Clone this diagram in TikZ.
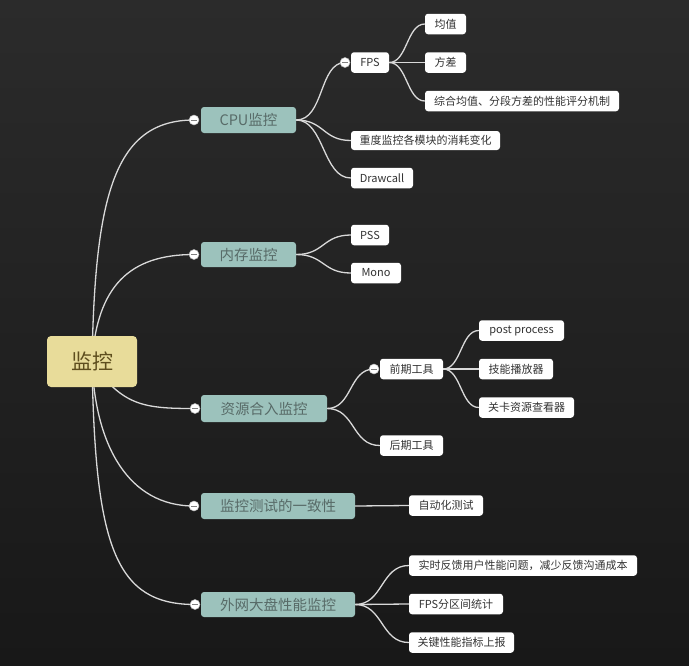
\documentclass[tikz,border=0pt]{standalone}
\usepackage{fontspec}
\setmainfont{Noto Sans CJK SC}
\definecolor{bgtop}{HTML}{2B2B2B}
\definecolor{bgbot}{HTML}{181818}
\definecolor{rootfill}{HTML}{E8DC9A}
\definecolor{roottext}{HTML}{5E4E1E}
\definecolor{tealfill}{HTML}{9CC2BC}
\definecolor{tealtext}{HTML}{586B68}
\definecolor{leaftext}{HTML}{333333}
\definecolor{edgecol}{HTML}{D9D9D9}
\pgfdeclarelayer{bg}
\pgfdeclarelayer{edges}
\pgfsetlayers{bg,edges,main}
\tikzset{
  rootbox/.style={rectangle, rounded corners=4pt, fill=rootfill, text=roottext, font=\fontsize{21}{21}\selectfont, minimum width=90pt, minimum height=51pt, inner sep=0pt},
  mainbox/.style={rectangle, rounded corners=3pt, fill=tealfill, text=tealtext, font=\fontsize{14.5}{14.5}\selectfont, minimum height=26pt, inner sep=0pt},
  leafbox/.style={rectangle, rounded corners=3pt, fill=white, text=leaftext, font=\fontsize{11}{11}\selectfont, minimum height=20.5pt, inner sep=0pt},
  dotmark/.style={circle, fill=white, draw=gray!60, line width=0.5pt, minimum size=10pt, inner sep=0pt},
  edge/.style={draw=edgecol, line width=1.3pt},
}
\newcommand{\minusmark}[1]{\draw[gray, line width=0.6pt] ([xshift=-3pt]#1.center) -- ([xshift=3pt]#1.center);}
\begin{document}
\begin{tikzpicture}[x=1pt,y=-1pt]
\begin{pgfonlayer}{bg}
\shade[top color=bgtop, bottom color=bgbot] (0,0) rectangle (689,665);
\end{pgfonlayer}
\useasboundingbox (0,0) rectangle (689,665);

% root
\node[rootbox] (root) at (92,361.5) {监控};

% main branches
\node[mainbox, minimum width=95pt] (cpu) at (248.5,120) {CPU监控};
\node[mainbox, minimum width=95pt, minimum height=25pt] (mem) at (248.5,254.5) {内存监控};
\node[mainbox, minimum width=126pt, minimum height=27pt] (res) at (264,408.5) {资源合入监控};
\node[mainbox, minimum width=154pt] (cons) at (278,506) {监控测试的一致性};
\node[mainbox, minimum width=154pt, minimum height=25pt] (ext) at (278,604.5) {外网大盘性能监控};

% leaves
\node[leafbox, minimum width=38pt] (fps) at (370,62.5) {FPS};
\node[leafbox, minimum width=41pt] (avg) at (445.5,24) {均值};
\node[leafbox, minimum width=41pt] (var) at (445.5,62.5) {方差};
\node[leafbox, minimum width=194pt] (comp) at (522,101) {综合均值、分段方差的性能评分机制};
\node[leafbox, minimum width=149pt, minimum height=19pt] (heavy) at (425.5,140.5) {重度监控各模块的消耗变化};
\node[leafbox, minimum width=62pt] (drawc) at (382,178) {Drawcall};
\node[leafbox, minimum width=38pt] (pss) at (370,235) {PSS};
\node[leafbox, minimum width=50pt] (mono) at (376,273) {Mono};
\node[leafbox, minimum width=63pt] (pre) at (411.5,369) {前期工具};
\node[leafbox, minimum width=85pt] (post) at (521.5,330.5) {post process};
\node[leafbox, minimum width=74pt] (skill) at (516,369) {技能播放器};
\node[leafbox, minimum width=95pt] (level) at (526.5,407.5) {关卡资源查看器};
\node[leafbox, minimum width=63pt] (late) at (411.5,445.5) {后期工具};
\node[leafbox, minimum width=74pt] (auto) at (446,505.5) {自动化测试};
\node[leafbox, minimum width=228pt] (rt) at (523,565.5) {实时反馈用户性能问题，减少反馈沟通成本};
\node[leafbox, minimum width=94pt] (fpsd) at (456,604) {FPS分区间统计};
\node[leafbox, minimum width=105pt] (key) at (461.5,642.5) {关键性能指标上报};

% collapse markers
\node[dotmark] (dcpu) at (194,120) {};
\node[dotmark] (dmem) at (194,254.5) {};
\node[dotmark] (dres) at (195,408.5) {};
\node[dotmark] (dcons) at (194,506) {};
\node[dotmark] (dext) at (195,604.5) {};
\node[dotmark] (dfps) at (345,62.5) {};
\node[dotmark] (dpre) at (374,369) {};
\foreach \d in {dcpu,dmem,dres,dcons,dext,dfps,dpre} {\minusmark{\d}}

\begin{pgfonlayer}{edges}
% root to main
\draw[edge] (root.center) .. controls +(3,-165) and +(-80,0) .. (dcpu.center);
\draw[edge] (root.center) .. controls +(5,-75) and +(-65,0) .. (dmem.center);
\draw[edge] (root.center) .. controls +(30,45) and +(-50,0) .. (dres.center);
\draw[edge] (root.center) .. controls +(3,85) and +(-65,0) .. (dcons.center);
\draw[edge] (root.center) .. controls +(3,185) and +(-80,0) .. (dext.center);
% CPU
\draw[edge] (cpu.east) .. controls +(28,0) and +(-26,0) .. (dfps.center);
\draw[edge] (cpu.east) .. controls +(28,0) and +(-28,0) .. (heavy.west);
\draw[edge] (cpu.east) .. controls +(28,0) and +(-28,0) .. (drawc.west);
\draw[edge] (fps.east) .. controls +(18,0) and +(-18,0) .. (avg.west);
\draw[edge] (fps.east) -- (var.west);
\draw[edge] (fps.east) .. controls +(18,0) and +(-18,0) .. (comp.west);
% memory
\draw[edge] (mem.east) .. controls +(28,0) and +(-28,0) .. (pss.west);
\draw[edge] (mem.east) .. controls +(28,0) and +(-28,0) .. (mono.west);
% resources
\draw[edge] (res.east) .. controls +(25,0) and +(-25,0) .. (dpre.center);
\draw[edge] (res.east) .. controls +(28,0) and +(-28,0) .. (late.west);
\draw[edge] (pre.east) .. controls +(18,0) and +(-18,0) .. (post.west);
\draw[edge] (pre.east) -- (skill.west);
\draw[edge] (pre.east) .. controls +(18,0) and +(-18,0) .. (level.west);
% consistency
\draw[edge] (cons.east) -- (auto.west);
% external
\draw[edge] (ext.east) .. controls +(28,0) and +(-28,0) .. (rt.west);
\draw[edge] (ext.east) -- (fpsd.west);
\draw[edge] (ext.east) .. controls +(28,0) and +(-28,0) .. (key.west);
\end{pgfonlayer}
\end{tikzpicture}
\end{document}
